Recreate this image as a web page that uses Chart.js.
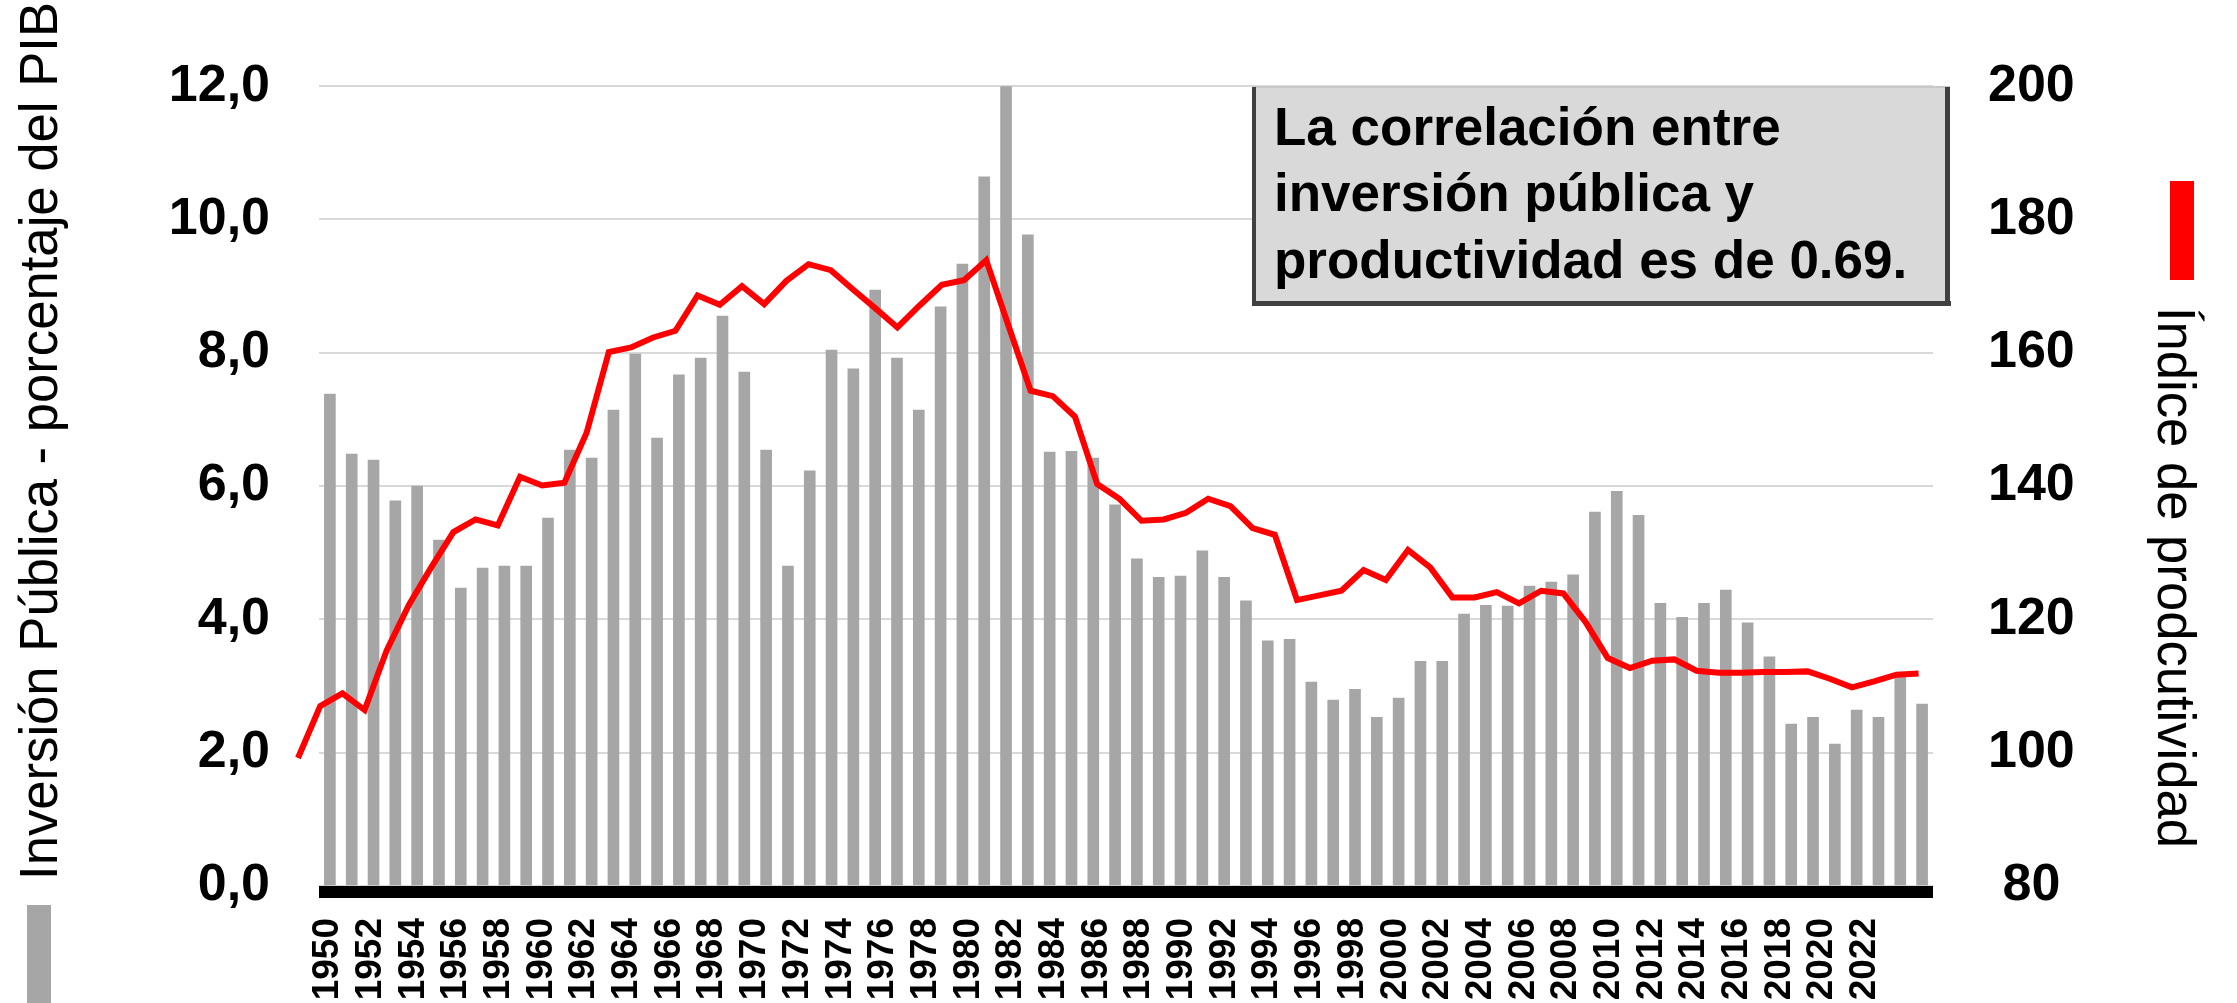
<!DOCTYPE html>
<html>
<head>
<meta charset="utf-8">
<title>Inversión pública y productividad</title>
<script src="https://cdn.jsdelivr.net/npm/chart.js@4.4.1/dist/chart.umd.min.js"></script>
<style>
    html, body { margin: 0; padding: 0; background: #fff; }
    #wrap { width: 2237px; height: 1003px; }
</style>
</head>
<body>
<div id="wrap"><canvas id="chart" width="2237" height="1003"></canvas></div>
<script>
// One bar per year
const years = [
    1950, 1951, 1952, 1953, 1954, 1955, 1956, 1957, 1958, 1959,
    1960, 1961, 1962, 1963, 1964, 1965, 1966, 1967, 1968, 1969,
    1970, 1971, 1972, 1973, 1974, 1975, 1976, 1977, 1978, 1979,
    1980, 1981, 1982, 1983, 1984, 1985, 1986, 1987, 1988, 1989,
    1990, 1991, 1992, 1993, 1994, 1995, 1996, 1997, 1998, 1999,
    2000, 2001, 2002, 2003, 2004, 2005, 2006, 2007, 2008, 2009,
    2010, 2011, 2012, 2013, 2014, 2015, 2016, 2017, 2018, 2019,
    2020, 2021, 2022, 2023
];

// Inversión pública, % del PIB (left axis)
const inversionPublica = [
    7.38, 6.48, 6.39, 5.78, 6.00, 5.19, 4.47, 4.77, 4.80, 4.80,
    5.52, 6.54, 6.42, 7.14, 7.98, 6.72, 7.67, 7.92, 8.55, 7.71,
    6.54, 4.80, 6.23, 8.04, 7.76, 8.94, 7.92, 7.14, 8.69, 9.33,
    10.64, 12.00, 9.77, 6.51, 6.52, 6.42, 5.72, 4.91, 4.63, 4.65,
    5.03, 4.63, 4.28, 3.68, 3.70, 3.06, 2.79, 2.95, 2.53, 2.82,
    3.37, 3.37, 4.08, 4.21, 4.20, 4.50, 4.56, 4.67, 5.61, 5.92,
    5.56, 4.24, 4.03, 4.24, 4.44, 3.95, 3.44, 2.43, 2.53, 2.13,
    2.64, 2.53, 3.17, 2.73
];

// Índice de productividad (right axis)
const productividad = [
    99.2, 107.0, 108.9, 106.4, 115.4, 122.2, 127.8, 133.1, 135.0, 134.1,
    141.4, 140.1, 140.5, 148.0, 160.1, 160.8, 162.3, 163.3, 168.6, 167.2,
    170.0, 167.3, 170.8, 173.3, 172.4, 169.5, 166.7, 163.8, 167.1, 170.2,
    170.9, 173.9, 164.1, 154.3, 153.5, 150.4, 140.3, 138.1, 134.8, 135.0,
    136.0, 138.1, 137.0, 133.7, 132.7, 122.9, 123.6, 124.3, 127.4, 125.9,
    130.4, 127.8, 123.3, 123.3, 124.1, 122.4, 124.3, 123.9, 119.6, 114.2,
    112.7, 113.8, 114.0, 112.3, 112.0, 112.0, 112.1, 112.1, 112.2, 111.1,
    109.8, 110.7, 111.7, 111.9
];

// Year labels printed under the axis
const tickYears = [
    1950, 1952, 1954, 1956, 1958, 1960, 1962, 1964, 1966, 1968,
    1970, 1972, 1974, 1976, 1978, 1980, 1982, 1984, 1986, 1988,
    1990, 1992, 1994, 1996, 1998, 2000, 2002, 2004, 2006, 2008,
    2010, 2012, 2014, 2016, 2018, 2020, 2022
];

const leftTitle = 'Inversión Pública - porcentaje del PIB';
const rightTitle = 'Índice de prodcutividad';
const noteLines = [
    'La correlación entre',
    'inversión pública y',
    'productividad es de 0.69.'
];

const FONT = '"Liberation Sans", Arial, sans-serif';
const GREY = '#a6a6a6';
const RED = '#ff0000';

// Draws the base bar, the note box, rotated axis titles and their colour keys
const decor = {
    id: 'decor',
    afterDatasetsDraw(chart) {
        const { ctx, chartArea, scales } = chart;
        const y0 = scales.y.getPixelForValue(0);
        ctx.save();
        ctx.fillStyle = '#000';
        ctx.fillRect(chartArea.left, y0, chartArea.right - chartArea.left, 12);

        // note box
        ctx.fillStyle = '#d9d9d9';
        ctx.fillRect(1253, 87, 697, 218);
        ctx.fillStyle = '#c8c8c8';
        ctx.fillRect(1253, 86, 697, 2);
        ctx.fillStyle = '#404040';
        ctx.fillRect(1252, 87, 4, 219);
        ctx.fillRect(1252, 301, 699, 5);
        ctx.fillRect(1945, 87, 5, 219);

        ctx.fillStyle = '#000';
        ctx.font = 'bold 53px ' + FONT;
        ctx.textBaseline = 'alphabetic';
        ctx.textAlign = 'left';
        const baselines = [145, 211, 278];
        noteLines.forEach((t, i) => ctx.fillText(t, 1274, baselines[i]));
        ctx.restore();
    },
    afterDraw(chart) {
        const { ctx } = chart;
        ctx.save();
        ctx.fillStyle = '#000';
        ctx.font = '53px ' + FONT;
        ctx.textBaseline = 'alphabetic';
        ctx.textAlign = 'left';

        // left title, reads bottom to top
        ctx.save();
        ctx.translate(57, 880);
        ctx.rotate(-Math.PI / 2);
        let w = ctx.measureText(leftTitle).width;
        ctx.scale(878 / w, 1);
        ctx.fillText(leftTitle, 0, 0);
        ctx.restore();

        // right title, reads top to bottom
        ctx.save();
        ctx.translate(2158, 307);
        ctx.rotate(Math.PI / 2);
        w = ctx.measureText(rightTitle).width;
        ctx.scale(541 / w, 1);
        ctx.fillText(rightTitle, 0, 0);
        ctx.restore();

        // colour keys
        ctx.fillStyle = GREY;
        ctx.fillRect(27, 905, 24, 98);
        ctx.fillStyle = RED;
        ctx.fillRect(2170, 181, 24, 99);
        ctx.restore();
    }
};

const ctx = document.getElementById('chart').getContext('2d');
const chart = new Chart(ctx, {
    type: 'bar',
    data: {
        labels: years,
        datasets: [
            {
                type: 'line',
                label: rightTitle,
                data: years.map((y, i) => ({ x: y, y: productividad[i] })),
                xAxisID: 'xl',
                yAxisID: 'y1',
                borderColor: RED,
                borderWidth: 6,
                pointRadius: 0,
                tension: 0,
                clip: false,
                order: 0
            },
            {
                type: 'bar',
                label: leftTitle,
                data: inversionPublica,
                xAxisID: 'x',
                yAxisID: 'y',
                backgroundColor: GREY,
                borderWidth: 0,
                grouped: false,
                barThickness: 11,
                order: 1
            }
        ]
    },
    options: {
        responsive: false,
        animation: false,
        devicePixelRatio: 1,
        layout: { padding: { top: 86, left: 0, right: 0, bottom: 0 } },
        plugins: {
            legend: { display: false },
            tooltip: { enabled: false }
        },
        scales: {
            x: {
                type: 'category',
                display: false,
                offset: true
            },
            xl: {
                type: 'linear',
                display: false,
                offset: false,
                min: 1950.946,
                max: 2023.649
            },
            xt: {
                type: 'linear',
                position: 'bottom',
                offset: false,
                min: 1949.578,
                max: 2025.186,
                grid: { display: false, drawTicks: false },
                border: { display: false },
                afterBuildTicks: s => { s.ticks = tickYears.map(v => ({ value: v })); },
                afterFit: s => { s.height = 117; },
                ticks: {
                    autoSkip: false,
                    minRotation: 90,
                    maxRotation: 90,
                    padding: 32,
                    color: '#000',
                    font: { family: FONT, size: 37, weight: 'bold' },
                    callback: v => String(v)
                }
            },
            y: {
                type: 'linear',
                position: 'left',
                min: 0,
                max: 12,
                afterFit: s => { s.width = 319; },
                grid: { color: '#d9d9d9', lineWidth: 2, drawTicks: false },
                border: { display: false },
                ticks: {
                    stepSize: 2,
                    padding: 49,
                    color: '#000',
                    font: { family: FONT, size: 52, weight: 'bold' },
                    callback: v => v.toFixed(1).replace('.', ',')
                }
            },
            y1: {
                type: 'linear',
                position: 'right',
                min: 80,
                max: 200,
                afterFit: s => { s.width = 304; },
                grid: { display: false, drawTicks: false },
                border: { display: false },
                ticks: {
                    stepSize: 20,
                    padding: 55,
                    crossAlign: 'center',
                    color: '#000',
                    font: { family: FONT, size: 52, weight: 'bold' }
                }
            }
        }
    },
    plugins: [decor]
});
</script>
</body>
</html>
